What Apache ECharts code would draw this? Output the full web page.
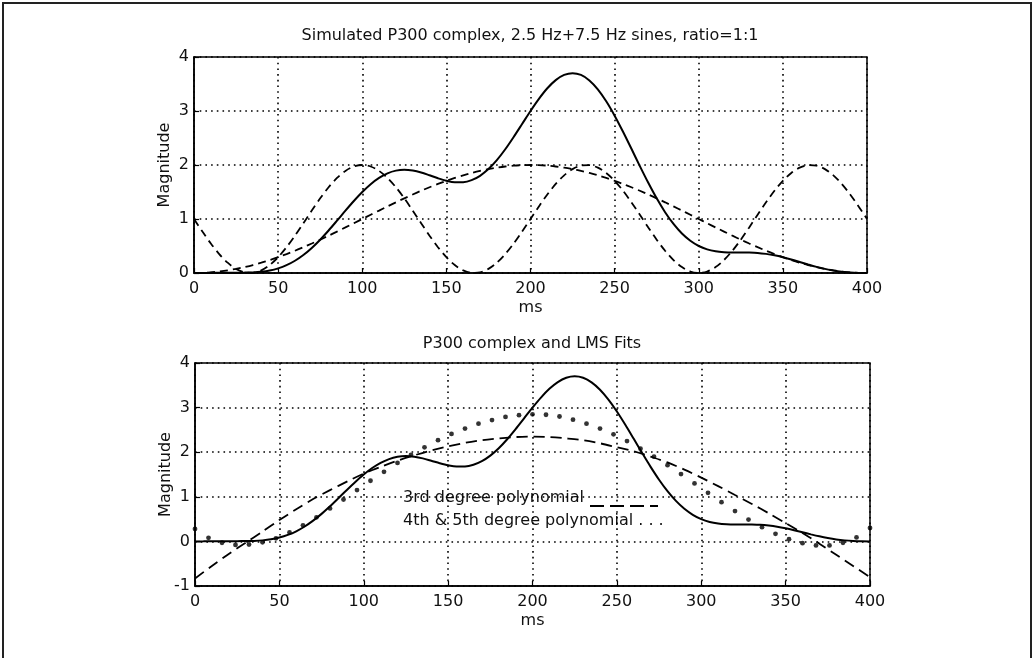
<!DOCTYPE html>
<html><head><meta charset="utf-8">
<script src="https://cdn.jsdelivr.net/npm/echarts@6/dist/echarts.min.js"></script>
<style>html,body{margin:0;padding:0;background:#fff}#c{width:1034px;height:659px}</style>
</head><body><div id="c"></div><script>
// time grid (ms), 5 ms steps
const msGrid = [0,5,10,15,20,25,30,35,40,45,50,55,60,65,70,75,80,85,90,95,100,105,110,115,120,125,130,135,140,145,150,155,160,165,170,175,180,185,190,195,200,205,210,215,220,225,230,235,240,245,250,255,260,265,270,275,280,285,290,295,300,305,310,315,320,325,330,335,340,345,350,355,360,365,370,375,380,385,390,395,400];
// simulated P300 complex (solid)
const p300Complex = [0,0.001,0.003,0.005,0.006,0.006,0.007,0.011,0.023,0.046,0.086,0.145,0.227,0.334,0.465,0.617,0.787,0.969,1.154,1.333,1.5,1.645,1.761,1.846,1.896,1.912,1.897,1.861,1.809,1.754,1.707,1.679,1.681,1.719,1.8,1.924,2.089,2.291,2.519,2.759,3.0,3.225,3.421,3.572,3.668,3.701,3.668,3.566,3.401,3.18,2.914,2.616,2.3,1.98,1.671,1.383,1.126,0.908,0.731,0.597,0.5,0.437,0.402,0.386,0.381,0.381,0.379,0.372,0.354,0.328,0.293,0.251,0.205,0.158,0.114,0.076,0.045,0.023,0.009,0.002,0];
// 2.5 Hz sine component (dashed, slow)
const sine25 = [0,0.003,0.012,0.028,0.049,0.076,0.109,0.147,0.191,0.24,0.293,0.351,0.412,0.478,0.546,0.617,0.691,0.767,0.844,0.922,1,1.079,1.156,1.233,1.309,1.383,1.454,1.523,1.588,1.649,1.707,1.76,1.809,1.853,1.891,1.924,1.951,1.972,1.988,1.997,2,1.997,1.988,1.972,1.951,1.924,1.891,1.853,1.809,1.76,1.707,1.649,1.588,1.523,1.454,1.383,1.309,1.233,1.156,1.079,1,0.922,0.844,0.767,0.691,0.617,0.546,0.478,0.412,0.351,0.293,0.24,0.191,0.147,0.109,0.076,0.049,0.028,0.012,0.003,0];
// 7.5 Hz sine component (dashed, fast)
const sine75 = [1,0.767,0.546,0.351,0.191,0.076,0.012,0.003,0.049,0.147,0.293,0.478,0.691,0.922,1.156,1.383,1.588,1.76,1.891,1.972,2,1.972,1.891,1.76,1.588,1.383,1.156,0.922,0.691,0.478,0.293,0.147,0.049,0.003,0.012,0.076,0.191,0.351,0.546,0.767,1,1.233,1.454,1.649,1.809,1.924,1.988,1.997,1.951,1.853,1.707,1.523,1.309,1.079,0.844,0.617,0.412,0.24,0.109,0.028,0,0.028,0.109,0.24,0.412,0.617,0.844,1.079,1.309,1.523,1.707,1.853,1.951,1.997,1.988,1.924,1.809,1.649,1.454,1.233,1];
// 3rd degree polynomial fit (dashed), 10 ms steps
const polyMs = [0,10,20,30,40,50,60,70,80,90,100,110,120,130,140,150,160,170,180,190,200,210,220,230,240,250,260,270,280,290,300,310,320,330,340,350,360,370,380,390,400];
const poly3 = [-0.83,-0.55,-0.28,-0.03,0.22,0.48,0.72,0.95,1.15,1.34,1.52,1.67,1.81,1.93,2.04,2.13,2.21,2.27,2.31,2.34,2.35,2.34,2.31,2.27,2.2,2.11,2.02,1.9,1.77,1.61,1.43,1.24,1.04,0.84,0.63,0.41,0.19,-0.05,-0.3,-0.55,-0.8];
// 4th & 5th degree polynomial fit (dots), 8 ms steps
const dotMs = [0,8,16,24,32,40,48,56,64,72,80,88,96,104,112,120,128,136,144,152,160,168,176,184,192,200,208,216,224,232,240,248,256,264,272,280,288,296,304,312,320,328,336,344,352,360,368,376,384,392,400];
const poly5 = [0.28,0.08,-0.03,-0.08,-0.07,-0.02,0.07,0.2,0.36,0.54,0.74,0.94,1.15,1.36,1.56,1.76,1.94,2.11,2.27,2.41,2.53,2.64,2.72,2.79,2.83,2.85,2.84,2.8,2.73,2.64,2.53,2.4,2.25,2.08,1.9,1.71,1.51,1.3,1.09,0.88,0.68,0.49,0.32,0.17,0.05,-0.04,-0.09,-0.09,-0.03,0.09,0.3];
// axis ticks
const xTicks = {min:0, max:400, interval:50};
const yTicksTop = {min:0, max:4, interval:1};
const yTicksBottom = {min:-1, max:4, interval:1};
const titles = ['Simulated P300 complex, 2.5 Hz+7.5 Hz sines, ratio=1:1', 'P300 complex and LMS Fits'];
const legendTexts = ['3rd degree polynomial', '4th & 5th degree polynomial . . .'];

const FONT = 'DejaVu Sans';
const INK = '#111';
const pairs = (xs, ys) => xs.map((x, i) => [x, ys[i]]);

function xAx(gi) {
  return {
    type:'value', gridIndex:gi, min:xTicks.min, max:xTicks.max, interval:xTicks.interval,
    name:'ms', nameLocation:'middle', nameGap:27, nameMoveOverlap:false,
    nameTextStyle:{fontFamily:FONT, fontSize:16, color:INK},
    axisLine:{show:true, onZero:false, lineStyle:{color:'#000', width:1.5}},
    axisTick:{show:true, inside:true, length:5, lineStyle:{color:'#000', width:1.2}},
    axisLabel:{fontFamily:FONT, fontSize:16, color:INK, margin:8},
    splitLine:{show:true, lineStyle:{color:'#000', width:1.6, type:[1.6,4.1]}}
  };
}
function yAx(gi, t) {
  return {
    type:'value', gridIndex:gi, min:t.min, max:t.max, interval:t.interval,
    name:'Magnitude', nameLocation:'middle', nameRotate:90, nameGap:21, nameMoveOverlap:false,
    nameTextStyle:{fontFamily:FONT, fontSize:16, color:INK},
    axisLine:{show:true, onZero:false, lineStyle:{color:'#000', width:1.5}},
    axisTick:{show:true, inside:true, length:5, lineStyle:{color:'#000', width:1.2}},
    axisLabel:{fontFamily:FONT, fontSize:16, color:INK, margin:5},
    splitLine:{show:true, lineStyle:{color:'#000', width:1.6, type:[1.6,4.1]}}
  };
}
const lineBase = {type:'line', smooth:0.3, symbol:'none', silent:true, animation:false};

const chart = echarts.init(document.getElementById('c'), null, {renderer:'canvas'});
chart.setOption({
  backgroundColor:'#fff',
  animation:false,
  title:[
    {text:titles[0], left:530, top:28, padding:0, textAlign:'center', textStyle:{fontFamily:FONT, fontSize:16, fontWeight:'normal', color:INK}},
    {text:titles[1], left:532, top:336, padding:0, textAlign:'center', textStyle:{fontFamily:FONT, fontSize:16, fontWeight:'normal', color:INK}}
  ],
  grid:[
    {left:194, top:57, width:673, height:216, show:true, borderColor:'#000', borderWidth:1.5, backgroundColor:'transparent'},
    {left:195, top:363, width:675, height:223, show:true, borderColor:'#000', borderWidth:1.5, backgroundColor:'transparent'}
  ],
  xAxis:[xAx(0), xAx(1)],
  yAxis:[yAx(0, yTicksTop), yAx(1, yTicksBottom)],
  series:[
    Object.assign({}, lineBase, {xAxisIndex:0, yAxisIndex:0, data:pairs(msGrid, sine25), lineStyle:{color:'#000', width:1.8, type:[8,5]}}),
    Object.assign({}, lineBase, {xAxisIndex:0, yAxisIndex:0, data:pairs(msGrid, sine75), lineStyle:{color:'#000', width:1.8, type:[8,5]}}),
    Object.assign({}, lineBase, {xAxisIndex:0, yAxisIndex:0, data:pairs(msGrid, p300Complex), lineStyle:{color:'#000', width:2}}),
    Object.assign({}, lineBase, {xAxisIndex:1, yAxisIndex:1, data:pairs(polyMs, poly3), lineStyle:{color:'#000', width:1.8, type:[11,6]}}),
    Object.assign({}, lineBase, {xAxisIndex:1, yAxisIndex:1, data:pairs(msGrid, p300Complex), lineStyle:{color:'#000', width:2}}),
    {type:'scatter', xAxisIndex:1, yAxisIndex:1, silent:true, animation:false, symbol:'circle', symbolSize:4.8, itemStyle:{color:'#000'}, data:pairs(dotMs, poly5)}
  ],
  graphic:[
    {type:'polyline', silent:true, shape:{points:[[3,658],[3,3],[1031,3],[1031,658]]}, style:{stroke:'#222', lineWidth:2, fill:null}},
    {type:'text', silent:true, left:403, top:490, style:{text:legendTexts[0], font:'16px "DejaVu Sans"', fill:INK}},
    {type:'line', silent:true, shape:{x1:590, y1:506, x2:658, y2:506}, style:{stroke:'#000', lineWidth:1.8, lineDash:[14,6]}},
    {type:'text', silent:true, left:403, top:513, style:{text:legendTexts[1], font:'16px "DejaVu Sans"', fill:INK}}
  ]
});
</script></body></html>
